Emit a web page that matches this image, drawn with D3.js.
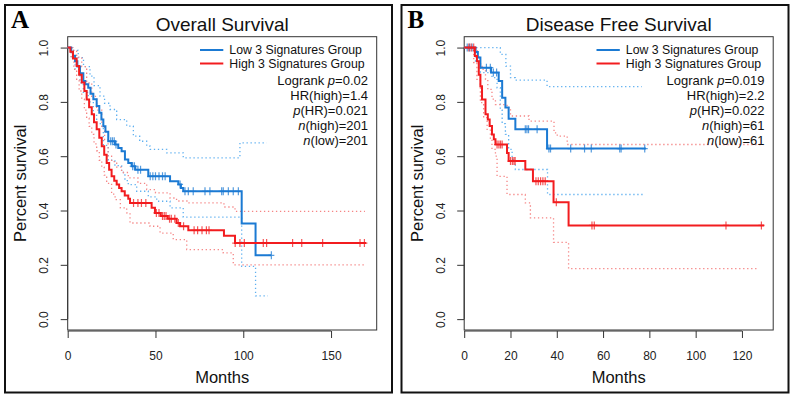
<!DOCTYPE html>
<html>
<head>
<meta charset="utf-8">
<script src="https://cdn.jsdelivr.net/npm/d3@7"></script>
<style>
  body { margin: 0; background: #fff; }
  svg { display: block; font-family: "Liberation Sans", Arial, Helvetica, sans-serif; }
</style>
</head>
<body>
<svg id="chart" width="794" height="400"></svg>
<script>
// ---- values ----
// step lists are [month, survival after that step]

// A: Overall Survival
const lowA = [[0,1],[2,0.985],[3,0.97],[4.2,0.95],[5.5,0.93],[7,0.905],[8.9,0.877],[10,0.865],[11.7,0.852],[13,0.83],[14.6,0.81],[16.5,0.785],[18,0.76],[19.2,0.735],[20.3,0.71],[21.5,0.69],[23.1,0.655],[26.9,0.643],[28.8,0.63],[30.7,0.618],[32.6,0.588],[34.5,0.575],[36.4,0.563],[38.5,0.55],[45.9,0.526],[58.3,0.508],[63,0.496],[64.5,0.483],[65.8,0.471],[99.1,0.352],[107,0.235]];
const lowEndA = 116;
const lowCensA = [24.5,25.5,26.5,27.5,37,38,40,41.5,47,48.5,50,52,54,55.5,64,66.8,68.7,71.5,78.2,81,87.7,88.6,91.5,94.3,97.2,116];
const lowUpA = [[0,1],[3,0.99],[6,0.963],[9,0.93],[12.7,0.895],[15,0.86],[18.4,0.821],[21,0.795],[24.1,0.772],[27.9,0.735],[33.6,0.711],[37.4,0.674],[41,0.655],[45,0.637],[47,0.625],[56.4,0.612],[65.8,0.594],[98.1,0.649]];
const lowUpEndA = 113.3;
const lowLoA = [[0,1],[2,0.96],[4.2,0.92],[7,0.87],[8.9,0.835],[11.7,0.8],[14.6,0.75],[16.5,0.72],[20.3,0.64],[23.1,0.585],[26.9,0.565],[30.7,0.54],[32.6,0.51],[34.5,0.495],[39.3,0.471],[45.9,0.45],[50.7,0.434],[58.3,0.41],[65.8,0.376],[99.1,0.194],[107,0.086]];
const lowLoEndA = 114;

const highA = [[0,1],[1.5,0.985],[3,0.96],[5.1,0.932],[6.5,0.9],[8,0.871],[9.5,0.84],[10.8,0.809],[12.2,0.78],[13.7,0.754],[15,0.725],[16.5,0.699],[18,0.668],[19.4,0.637],[20.8,0.605],[22.2,0.575],[23.6,0.55],[25,0.526],[26.5,0.51],[27.9,0.496],[29.3,0.483],[30.7,0.471],[32.5,0.455],[34.5,0.443],[35.5,0.428],[47.8,0.41],[49.7,0.391],[53,0.38],[57,0.37],[62,0.354],[64,0.342],[68.7,0.327],[89,0.307],[95.3,0.28]];
const highEndA = 170;
const highCensA = [37.5,40,42,44.5,50.5,52,54,55,56,58,59,61,63,66,72,74,76.5,79,80.5,95.4,98.1,100.6,111.4,113.3,128.1,133.3,145.2,166.5,169];
const highUpA = [[0,1],[3,0.99],[5.1,0.965],[8,0.93],[10.8,0.87],[13.7,0.82],[16.5,0.77],[19.4,0.71],[21,0.66],[23,0.6],[25,0.58],[27.9,0.56],[30.7,0.54],[34.5,0.52],[40,0.5],[45,0.477],[50,0.465],[58.3,0.446],[62,0.435],[68.7,0.428],[89,0.413],[95.3,0.397]];
const highUpEndA = 169.3;
const highLoA = [[0,1],[2,0.96],[3.5,0.92],[5.1,0.88],[6.5,0.84],[8,0.81],[9.5,0.77],[10.8,0.74],[12.2,0.71],[13.7,0.68],[15,0.645],[16.5,0.62],[18,0.585],[19.4,0.56],[20.8,0.53],[22.2,0.5],[25,0.46],[27,0.44],[30,0.41],[33.6,0.391],[35.5,0.354],[46.9,0.342],[52.6,0.317],[60.1,0.293],[67.8,0.256],[88.6,0.244],[94.3,0.2]];
const highLoEndA = 169.3;

// B: Disease Free Survival
const lowB = [[0,1],[4.9,0.984],[5.9,0.963],[7,0.926],[11.6,0.908],[14.9,0.877],[16.4,0.815],[17.8,0.779],[19.2,0.738],[22.1,0.699],[35.8,0.628]];
const lowEndB = 78.5;
const lowCensB = [1.3,2.3,3.4,9.6,11.3,12.6,14,26.4,27.1,27.8,31.5,36.6,37.3,46,52,54.9,67.2,67.8,78];
const lowUpB = [[0,1],[15.6,0.975],[18,0.932],[20,0.889],[22.1,0.88],[35.8,0.856]];
const lowUpEndB = 76.7;
const lowLoB = [[0,1],[4.9,0.95],[7,0.908],[12,0.889],[14.2,0.852],[15.6,0.77],[16.4,0.72],[17.8,0.68],[19.2,0.625],[20.7,0.588],[22.1,0.551],[36,0.459]];
const lowLoEndB = 78.1;

const highB = [[0,1],[4.6,0.969],[5.5,0.95],[6.3,0.9],[7,0.858],[7.7,0.809],[9.2,0.754],[10.2,0.735],[11,0.711],[12,0.68],[12.8,0.662],[13.5,0.643],[18.5,0.612],[19.2,0.582],[26.4,0.551],[29.7,0.508],[38.6,0.43],[45.1,0.345]];
const highEndB = 129.6;
const highCensB = [2,3,4.1,14.2,15,15.7,16.4,20,20.8,21.5,22,31,32,33,34,35,39.8,55.2,56.2,113.1,128.4];
const highUpB = [[0,1],[4.6,0.995],[5.7,0.969],[6.5,0.94],[7.7,0.92],[9.2,0.883],[10.2,0.846],[12,0.81],[13.5,0.79],[18.5,0.779],[20,0.748],[28,0.729],[38.8,0.686],[40.2,0.674],[44.5,0.643]];
const highUpEndB = 129.3;
const highLoB = [[0,1],[4.1,0.945],[5.5,0.883],[7,0.797],[8.4,0.742],[9.9,0.699],[11.3,0.662],[12,0.625],[13.5,0.6],[14.2,0.526],[18.5,0.459],[26.4,0.428],[28.6,0.373],[38.6,0.283],[45.1,0.186]];
const highLoEndB = 127;

// axes and texts
const xTicksA = [0, 50, 100, 150];
const xTicksB = [0, 20, 40, 60, 80, 100, 120];
const yTicks = [0, 0.2, 0.4, 0.6, 0.8, 1.0];
const legendLabels = ["Low 3 Signatures Group", "High 3 Signatures Group"];
// [plain, italic, plain]
const statsA = [["Logrank ", "p", "=0.02"], ["HR(high)=1.4", "", ""], ["", "p", "(HR)=0.021"], ["", "n", "(high)=201"], ["", "n", "(low)=201"]];
const statsB = [["Logrank ", "p", "=0.019"], ["HR(high)=2.2", "", ""], ["", "p", "(HR)=0.022"], ["", "n", "(high)=61"], ["", "n", "(low)=61"]];

const blue = "#1b7ad3", red = "#f21c1f";
const blueCI = "#5fb0f0", redCI = "#f58585";

const svg = d3.select("#chart");

function survAt(steps, t) {
  let s = 1;
  for (const [tt, ss] of steps) if (tt <= t) s = ss;
  return s;
}

function drawPanel(ox, p) {
  const g = svg.append("g").attr("transform", `translate(${ox},0)`);
  const x = d3.scaleLinear().domain([0, p.xMax]).range([67.7, 376.7]);
  const y = d3.scaleLinear().domain([-0.04, 1.04]).range([330, 36.7]);

  // outer frame
  g.append("rect").attr("x", 5).attr("y", 5).attr("width", 387).attr("height", 387.5)
    .attr("fill", "none").attr("stroke", "#111").attr("stroke-width", 2);

  g.append("text").attr("x", 11).attr("y", 28)
    .attr("font-family", "'Liberation Serif', 'Times New Roman', serif")
    .attr("font-weight", "bold").attr("font-size", 25).text(p.letter);

  g.append("text").attr("x", (67.7 + 376.7) / 2).attr("y", 31)
    .attr("text-anchor", "middle").attr("font-size", 19).attr("fill", "#111").text(p.title);

  // plot box
  g.append("rect").attr("x", 67.7).attr("y", 36.7).attr("width", 309).attr("height", 293.3)
    .attr("fill", "none").attr("stroke", "#333").attr("stroke-width", 1);

  // x axis
  const xa = g.append("g").attr("transform", "translate(0,331)")
    .call(d3.axisBottom(x).tickValues(p.xTicks).tickSize(7).tickPadding(13).tickSizeOuter(0));
  xa.select(".domain").remove();
  xa.append("line").attr("x1", x(p.xTicks[0])).attr("x2", x(p.xTicks[p.xTicks.length - 1]))
    .attr("stroke", "#333");
  xa.selectAll("line").attr("stroke", "#333");
  xa.selectAll("text").attr("font-size", 12).attr("fill", "#222").attr("font-family", null);

  // y axis
  const ya = g.append("g").attr("transform", "translate(67.7,0)")
    .call(d3.axisLeft(y).tickValues(yTicks).tickFormat(d3.format(".1f")).tickSize(7).tickSizeOuter(0));
  ya.select(".domain").remove();
  ya.append("line").attr("y1", y(0)).attr("y2", y(1)).attr("stroke", "#333");
  ya.selectAll("line").attr("stroke", "#333");
  ya.selectAll("text").attr("font-size", 12).attr("fill", "#222").attr("font-family", null)
    .attr("x", 0).attr("dy", 0).attr("text-anchor", "middle")
    .attr("transform", "translate(-19.5,0) rotate(-90)");

  g.append("text").attr("transform", `translate(26,${(36.7 + 330) / 2}) rotate(-90)`)
    .attr("text-anchor", "middle").attr("font-size", 16.5).attr("fill", "#111").text("Percent survival");
  g.append("text").attr("x", (67.7 + 376.7) / 2).attr("y", 383)
    .attr("text-anchor", "middle").attr("font-size", 16.5).attr("fill", "#111").text("Months");

  const line = d3.line().x(d => x(d[0])).y(d => y(d[1])).curve(d3.curveStepAfter);
  const withEnd = (steps, end) => steps.concat([[end, steps[steps.length - 1][1]]]);

  // confidence bands (dotted)
  p.cis.forEach(c => {
    g.append("path").datum(withEnd(c.steps, c.end)).attr("d", line)
      .attr("fill", "none").attr("stroke", c.color).attr("stroke-width", 1.3)
      .attr("stroke-dasharray", "1.3,2.7");
  });

  // survival curves + censor marks
  p.curves.forEach(c => {
    g.append("path").datum(withEnd(c.steps, c.end)).attr("d", line)
      .attr("fill", "none").attr("stroke", c.color).attr("stroke-width", 2);
    g.append("g").selectAll("path").data(c.cens).join("path")
      .attr("d", t => {
        const px = x(t), py = y(survAt(c.steps, t));
        return `M${px - 3},${py}h6M${px},${py - 4}v8`;
      })
      .attr("stroke", c.color).attr("stroke-opacity", 0.75).attr("stroke-width", 1.2);
  });

  // legend
  const lg = g.append("g");
  [blue, red].forEach((col, i) => {
    const cy = 50 + i * 13.5;
    lg.append("line").attr("x1", 200).attr("x2", 223.3).attr("y1", cy).attr("y2", cy)
      .attr("stroke", col).attr("stroke-width", 2);
    lg.append("text").attr("x", 229.3).attr("y", cy + 4.4).attr("font-size", 12.3)
      .attr("fill", "#111").text(legendLabels[i]);
  });
  p.stats.forEach((s, i) => {
    const t = lg.append("text").attr("x", 368).attr("y", 84.6 + i * 15)
      .attr("text-anchor", "end").attr("font-size", 13).attr("fill", "#111");
    if (s[0]) t.append("tspan").text(s[0]);
    if (s[1]) t.append("tspan").attr("font-style", "italic").text(s[1]);
    if (s[2]) t.append("tspan").text(s[2]);
  });
}

drawPanel(0, {
  letter: "A", title: "Overall Survival", xMax: 176, xTicks: xTicksA, stats: statsA,
  cis: [
    { steps: lowUpA, end: lowUpEndA, color: blueCI },
    { steps: lowLoA, end: lowLoEndA, color: blueCI },
    { steps: highUpA, end: highUpEndA, color: redCI },
    { steps: highLoA, end: highLoEndA, color: redCI }
  ],
  curves: [
    { steps: lowA, end: lowEndA, cens: lowCensA, color: blue },
    { steps: highA, end: highEndA, cens: highCensA, color: red }
  ]
});

drawPanel(396.5, {
  letter: "B", title: "Disease Free Survival", xMax: 133.5, xTicks: xTicksB, stats: statsB,
  cis: [
    { steps: lowUpB, end: lowUpEndB, color: blueCI },
    { steps: lowLoB, end: lowLoEndB, color: blueCI },
    { steps: highUpB, end: highUpEndB, color: redCI },
    { steps: highLoB, end: highLoEndB, color: redCI }
  ],
  curves: [
    { steps: lowB, end: lowEndB, cens: lowCensB, color: blue },
    { steps: highB, end: highEndB, cens: highCensB, color: red }
  ]
});
</script>
</body>
</html>
